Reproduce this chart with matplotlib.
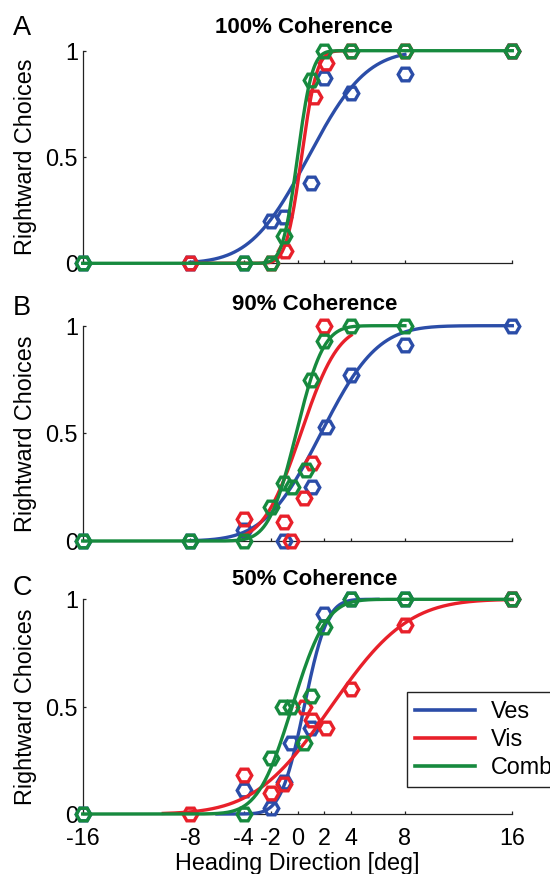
import numpy as np
import matplotlib
matplotlib.use("Agg")
import matplotlib.pyplot as plt
from math import erf

plt.rcParams['font.family'] = ['Liberation Sans', 'DejaVu Sans']

# headings and proportion of rightward choices
ves_x_A = [-16, -8, -4, -2, -1, 1, 2, 4, 8, 16]
ves_y_A = [0, 0, 0, 0.20, 0.22, 0.38, 0.87, 0.80, 0.89, 1]
vis_x_A = [-8, -2, -0.9, 1.2, 2.1, 4, 8, 16]
vis_y_A = [0, 0, 0.06, 0.78, 0.94, 1, 1, 1]
comb_x_A = [-16, -4, -2, -1, 1, 2, 4, 8, 16]
comb_y_A = [0, 0, 0, 0.13, 0.86, 1, 1, 1, 1]

ves_x_B = [-16, -8, -4, -1, 1.1, 2.1, 4, 8, 16]
ves_y_B = [0, 0, 0.05, 0, 0.25, 0.53, 0.77, 0.91, 1]
vis_x_B = [-4, -1, -0.5, 0.5, 1.1, 2]
vis_y_B = [0.10, 0.09, 0, 0.20, 0.36, 1]
comb_x_B = [-16, -8, -4, -2, -1, -0.4, 0.6, 1, 2, 4, 8]
comb_y_B = [0, 0, 0, 0.16, 0.27, 0.25, 0.33, 0.75, 0.93, 1, 1]

ves_x_C = [-16, -4, -2, -1, -0.5, 1, 2, 4, 8, 16]
ves_y_C = [0, 0.11, 0.03, 0.15, 0.33, 0.40, 0.93, 1, 1, 1]
vis_x_C = [-8, -4, -2, -1, 0.5, 1.1, 2.1, 4, 8, 16]
vis_y_C = [0, 0.18, 0.10, 0.14, 0.50, 0.44, 0.40, 0.58, 0.88, 1]
comb_x_C = [-16, -4, -2, -1.1, -0.5, 0.5, 1, 2, 4, 8, 16]
comb_y_C = [0, 0, 0.26, 0.50, 0.50, 0.33, 0.55, 0.87, 1, 1, 1]

# cumulative gaussian fits: (mu, sigma, x from, x to)
fit_A = [(0.8, 3.4, -8, 8), (0.3, 0.9, -8, 4), (0.0, 0.87, -16, 16)]
fit_B = [(1.75, 3.3, -8, 16), (0.25, 2.2, -4, 4), (-0.1, 1.6, -16, 8)]
fit_C = [(0.5, 1.35, -6, 6), (2.5, 4.5, -10, 16), (-0.4, 2.0, -16, 16)]

titles = ['100% Coherence', '90% Coherence', '50% Coherence']
letters = ['A', 'B', 'C']
names = ['Ves', 'Vis', 'Comb']
colors = ['#2B4DA8', '#E8202A', '#168A3E']
xticks = [-16, -8, -4, -2, 0, 2, 4, 8, 16]

panels = [
    [(ves_x_A, ves_y_A), (vis_x_A, vis_y_A), (comb_x_A, comb_y_A)],
    [(ves_x_B, ves_y_B), (vis_x_B, vis_y_B), (comb_x_B, comb_y_B)],
    [(ves_x_C, ves_y_C), (vis_x_C, vis_y_C), (comb_x_C, comb_y_C)],
]
fits = [fit_A, fit_B, fit_C]

fig = plt.figure(figsize=(5.5, 8.74), dpi=100)

# axes boxes in pixels (top, bottom)
boxes = [(50.7, 263.3), (325.7, 541.0), (599.3, 814.0)]
letter_y = [35, 315, 595]
title_x = [0.515, 0.54, 0.54]
title_pad = [12.5, 11, 10]
left, right = 82.7, 512.3

for i in range(3):
    top, bot = boxes[i]
    ax = fig.add_axes([left / 550, 1 - bot / 874, (right - left) / 550, (bot - top) / 874])
    for j in range(3):
        xs, ys = panels[i][j]
        mu, sd, x0, x1 = fits[i][j]
        xx = np.linspace(x0, x1, 300)
        yy = np.array([0.5 * (1 + erf((v - mu) / (sd * np.sqrt(2)))) for v in xx])
        ax.plot(xs, ys, 'H', ms=10.5, mfc='none', mec=colors[j], mew=2.4,
                clip_on=False, zorder=3 + 2 * j)
        ax.plot(xx, yy, '-', color=colors[j], lw=2.4, clip_on=False,
                zorder=4 + 2 * j, label=names[j])
    ax.set_xlim(-16, 16)
    ax.set_ylim(0, 1)
    ax.set_xticks(xticks)
    ax.set_yticks([0, 0.5, 1])
    ax.set_yticklabels(['0', '0.5', '1'])
    ax.spines['top'].set_visible(False)
    ax.spines['right'].set_visible(False)
    for s in ['left', 'bottom']:
        ax.spines[s].set_linewidth(0.9)
        ax.spines[s].set_color('#222222')
    ax.tick_params(direction='in', length=2.5, width=0.9, labelsize=16.8,
                   color='#222222')
    ax.tick_params(axis='y', pad=3.5)
    ax.tick_params(axis='x', pad=9.5)
    if i < 2:
        ax.set_xticklabels([])
    else:
        ax.set_xticklabels([str(t) for t in xticks])
        ax.set_xlabel('Heading Direction [deg]', fontsize=16.8, labelpad=1.5)
    ax.set_title(titles[i], fontsize=16, fontweight='bold', x=title_x[i],
                 pad=title_pad[i])
    fig.text(25.4 / 550, 1 - (top + bot) / 2 / 874, 'Rightward Choices',
             rotation=90, ha='center', va='center', fontsize=16.8)
    fig.text(13 / 550, 1 - letter_y[i] / 874, letters[i], fontsize=19.5,
             ha='left', va='baseline')
    if i == 2:
        leg = ax.legend(loc='lower left', bbox_to_anchor=(407.3 / 550, 1 - 786.7 / 874),
                        bbox_transform=fig.transFigure, fontsize=16.8,
                        frameon=True, fancybox=False, framealpha=1,
                        handlelength=2.55, handletextpad=0.7, borderpad=0.33,
                        labelspacing=0.22, borderaxespad=0)
        leg.get_frame().set_edgecolor('#222222')
        leg.get_frame().set_linewidth(1.0)
        for ln in leg.get_lines():
            ln.set_linewidth(2.6)

fig.savefig('out.png', dpi=100)
